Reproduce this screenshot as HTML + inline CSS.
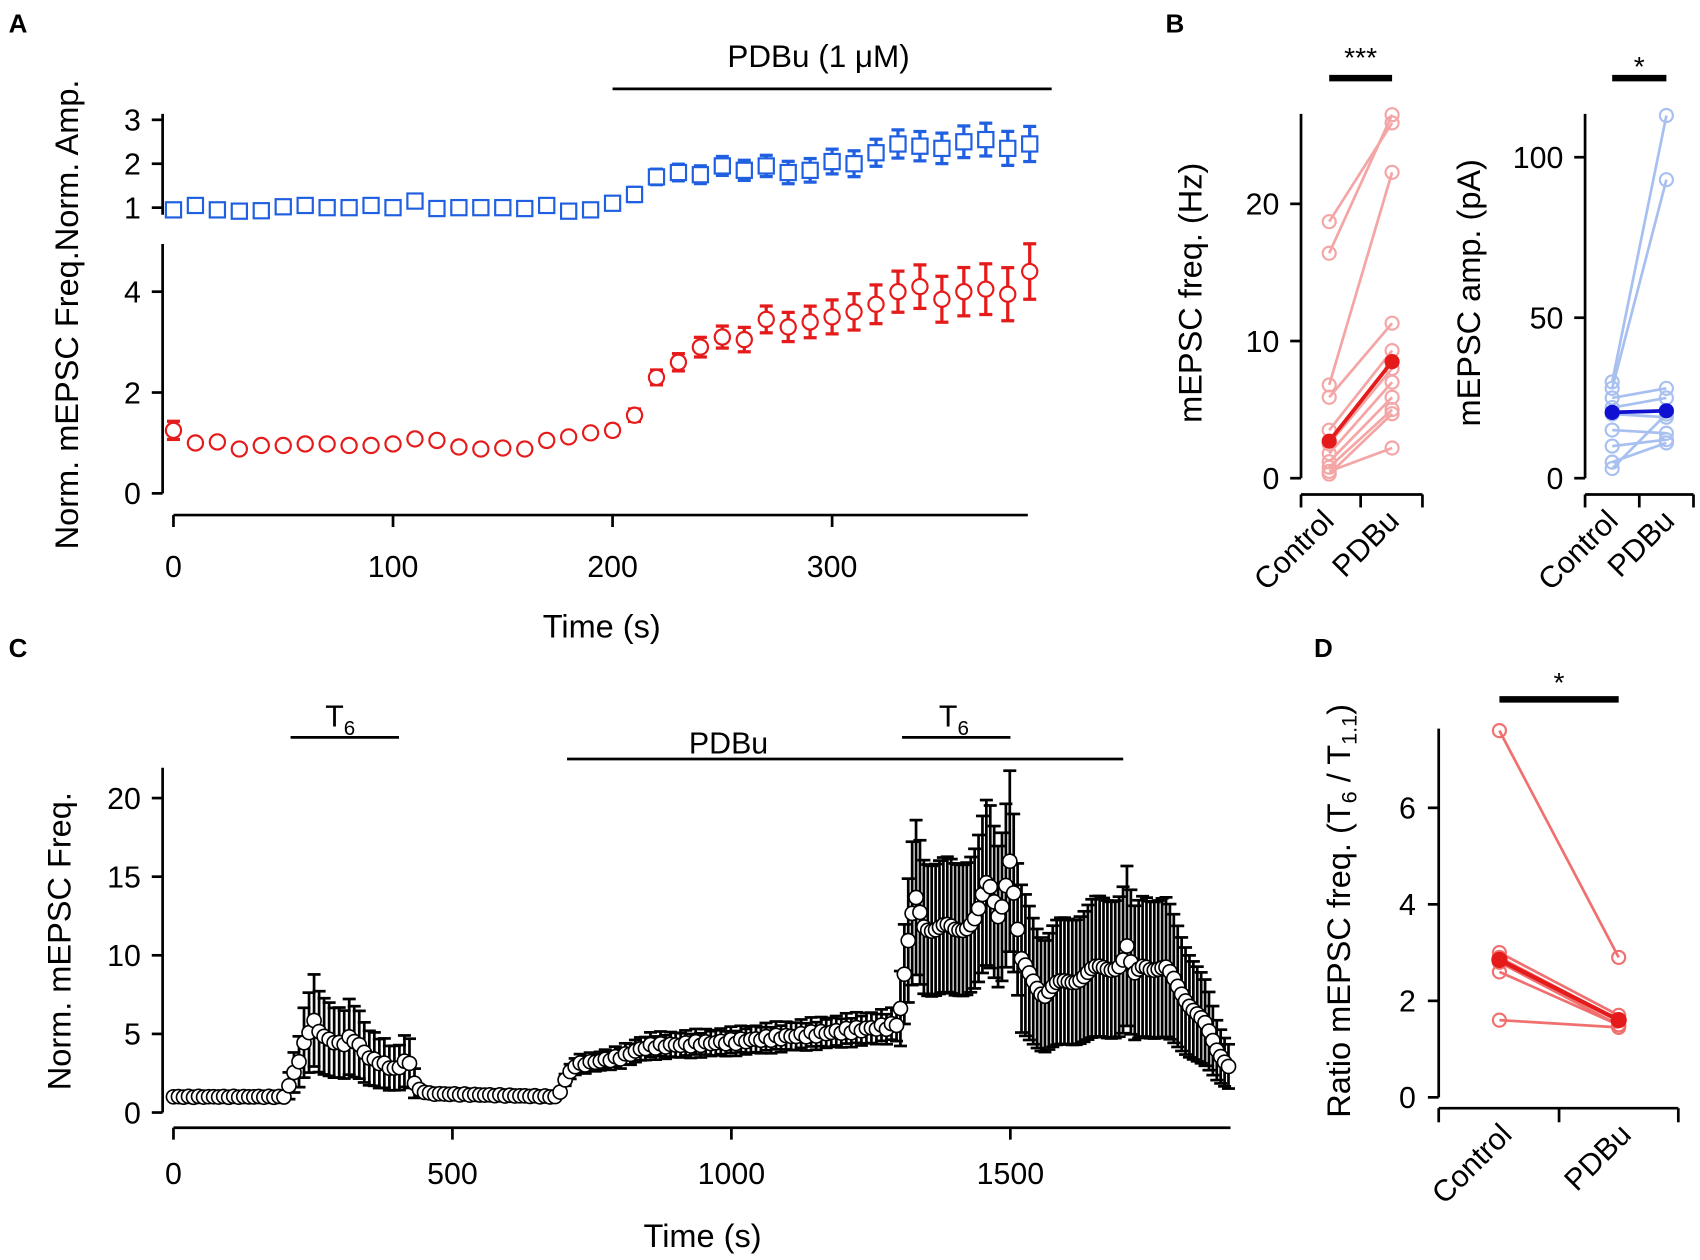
<!DOCTYPE html>
<html><head><meta charset="utf-8"><style>
html,body{margin:0;padding:0;background:#fff;}
svg{display:block;font-family:"Liberation Sans",sans-serif;}
</style></head><body>
<svg id="s" width="1700" height="1260" viewBox="0 0 1568 1162" preserveAspectRatio="none" xmlns="http://www.w3.org/2000/svg">
<rect width="1568" height="1162" fill="#fff"/>
<g font-weight="bold" font-size="24">
<text x="8" y="30">A</text><text x="1075" y="30">B</text><text x="8" y="606">C</text><text x="1212" y="606">D</text>
</g>
<g id="g"></g>
</svg>
<script>
const g=document.getElementById('g');
let h='';
function L(x1,y1,x2,y2,c,w){h+=`<line x1="${x1}" y1="${y1}" x2="${x2}" y2="${y2}" stroke="${c||'#000'}" stroke-width="${w||2.5}"/>`;}
function T(x,y,t,o){o=o||{};h+=`<text x="${x}" y="${y}" font-size="${o.s||28}" text-anchor="${o.a||'middle'}" ${o.r?`transform="rotate(${o.r} ${x} ${y})"`:''} fill="#000">${t}</text>`;}
// Panel A
const ax=t=>160+t*2.025, lyA=v=>455-v*46.5, uyA=v=>232-v*40.5;
L(150,225,150,455);L(140,455,150,455);L(140,362,150,362);L(140,269,150,269);
T(130,465,'0',{a:'end'});T(130,372,'2',{a:'end'});T(130,279,'4',{a:'end'});
L(150,105,150,198);[1,2,3].forEach(v=>{L(140,uyA(v),150,uyA(v));T(130,uyA(v)+10,v,{a:'end'});});
L(160,475,948,475);[0,100,200,300].forEach(t=>{L(ax(t),475,ax(t),486);T(ax(t),532,t);});
L(565,82,970,82);T(755,62,'PDBu (1 μM)',{s:29});
T(555,588,'Time (s)',{s:30});
T(72,290,'Norm. mEPSC Freq.Norm. Amp.',{s:30,r:-90});
const bl=[0.95,1.05,0.95,0.92,0.93,1.02,1.05,1.0,1.0,1.05,1.0,1.15,0.98,1.0,1.0,1.0,0.98,1.05,0.92,0.95,1.1,1.3,1.7,1.8,1.75,1.95,1.85,1.95,1.8,1.85,2.05,2.0,2.25,2.45,2.4,2.35,2.5,2.55,2.35,2.45];
const rd=[1.25,1.0,1.02,0.88,0.95,0.95,0.98,0.98,0.95,0.95,0.98,1.08,1.05,0.92,0.88,0.9,0.88,1.05,1.12,1.2,1.25,1.55,2.3,2.6,2.9,3.1,3.05,3.45,3.3,3.4,3.5,3.6,3.75,4.0,4.1,3.85,4.0,4.05,3.95,4.4];
bl.forEach((v,i)=>{const x=ax(i*10),y=uyA(v);const e=i<20?(i==0||i==19?0.12:0.04):0.15+0.25*(i-20)/19;
 if(e>0.05){L(x,uyA(v+e),x,uyA(v-e),'#1f5fe0',3);L(x-6,uyA(v+e),x+6,uyA(v+e),'#1f5fe0',3);L(x-6,uyA(v-e),x+6,uyA(v-e),'#1f5fe0',3);}
 h+=`<rect x="${x-7}" y="${y-7}" width="14" height="14" fill="#fff" stroke="#1f5fe0" stroke-width="2"/>`;});
rd.forEach((v,i)=>{const x=ax(i*10),y=lyA(v);const e=i<20?(i==0?0.18:0.08):0.1+0.45*(i-20)/19;
 L(x,lyA(v+e),x,lyA(v-e),'#e51a1a',3);L(x-6,lyA(v+e),x+6,lyA(v+e),'#e51a1a',3);L(x-6,lyA(v-e),x+6,lyA(v-e),'#e51a1a',3);
 h+=`<circle cx="${x}" cy="${y}" r="7" fill="#fff" stroke="#e51a1a" stroke-width="2"/>`;});
// Panel B left
const by1=v=>441-v*12.65;
L(1200,105,1200,441);[0,10,20].forEach(v=>{L(1190,by1(v),1200,by1(v));T(1180,by1(v)+10,v,{a:'end'});});
L(1200,456,1312,456);[1200,1255,1312].forEach(x=>L(x,456,x,468));
T(1232,482,'Control',{a:'end',r:-45});T(1292,482,'PDBu',{a:'end',r:-45});
T(1108,270,'mEPSC freq. (Hz)',{s:30,r:-90});
L(1226,72,1284,72,'#000',6);T(1255,62,'***',{s:26});
[[18.7,25.9],[16.4,26.5],[6.8,22.3],[5.9,11.3],[3.5,9.3],[2.5,8],[1.8,7],[1.2,5.9],[0.8,5],[0.3,4.7],[0.5,2.2]].forEach(p=>{
 L(1226,by1(p[0]),1284,by1(p[1]),'#f4a5a5',2.5);h+=`<circle cx="1226" cy="${by1(p[0])}" r="6" fill="none" stroke="#f4a5a5" stroke-width="2"/><circle cx="1284" cy="${by1(p[1])}" r="6" fill="none" stroke="#f4a5a5" stroke-width="2"/>`;});
L(1226,by1(2.7),1284,by1(8.5),'#e51a1a',3.5);h+=`<circle cx="1226" cy="${by1(2.7)}" r="7" fill="#e51a1a"/><circle cx="1284" cy="${by1(8.5)}" r="7" fill="#e51a1a"/>`;
// Panel B right
const by2=v=>441-v*2.96;
L(1462,105,1462,441);[0,50,100].forEach(v=>{L(1452,by2(v),1462,by2(v));T(1442,by2(v)+10,v,{a:'end'});});
L(1462,456,1562,456);[1462,1512,1562].forEach(x=>L(x,456,x,468));
T(1494,482,'Control',{a:'end',r:-45});T(1546,482,'PDBu',{a:'end',r:-45});
T(1365,270,'mEPSC amp. (pA)',{s:30,r:-90});
L(1487,72,1537,72,'#000',6);T(1512,70,'*',{s:26});
[[30,113],[28,93],[25,28],[22,25],[20,19],[15,14],[10,12],[5,11],[3,20]].forEach(p=>{
 L(1487,by2(p[0]),1537,by2(p[1]),'#a8c0f0',2.5);h+=`<circle cx="1487" cy="${by2(p[0])}" r="6" fill="none" stroke="#a8c0f0" stroke-width="2"/><circle cx="1537" cy="${by2(p[1])}" r="6" fill="none" stroke="#a8c0f0" stroke-width="2"/>`;});
L(1487,by2(20.5),1537,by2(21),'#1010d0',3.5);h+=`<circle cx="1487" cy="${by2(20.5)}" r="7" fill="#1010d0"/><circle cx="1537" cy="${by2(21)}" r="7" fill="#1010d0"/>`;
// Panel C
const cx=t=>160+t*0.5146, cy=v=>1026-v*14.5;
L(150,708,150,1026);[0,5,10,15,20].forEach(v=>{L(140,cy(v),150,cy(v));T(130,cy(v)+10,v,{a:'end'});});
L(160,1040,1135,1040);[0,500,1000,1500].forEach(t=>{L(cx(t),1040,cx(t),1051);T(cx(t),1092,t);});
T(648,1150,'Time (s)',{s:30});T(65,868,'Norm. mEPSC Freq.',{s:30,r:-90});
L(268,680,368,680);L(832,680,932,680);L(523,700,1036,700);
h+=`<text x="300" y="670" font-size="28">T<tspan font-size="19" dy="8">6</tspan></text><text x="866" y="670" font-size="28">T<tspan font-size="19" dy="8">6</tspan></text>`;
T(672,695,'PDBu',{s:28});
const key=[[0,1],[200,1],[210,2],[225,3.3],[240,5],[250,5.8],[270,4.8],[300,4.3],[320,4.8],[350,3.5],[400,2.7],[420,3.5],[435,1.5],[460,1.2],[690,1],[700,2],[720,3],[800,3.5],[850,4.2],[1000,4.5],[1150,5],[1290,5.5],[1300,5.8],[1310,8.7],[1320,11.5],[1330,13.5],[1345,12],[1400,11.5],[1440,12.5],[1460,14.5],[1480,12.5],[1500,16.4],[1510,12.2],[1520,9.5],[1540,8.5],[1560,7.5],[1580,8],[1650,9],[1700,9.5],[1710,10.5],[1720,8.5],[1740,9.5],[1780,9],[1800,8],[1850,5.5],[1870,4],[1890,3]];
function f(t){for(let i=1;i<key.length;i++){if(t<=key[i][0]){const a=key[i-1],b=key[i];return a[1]+(b[1]-a[1])*(t-a[0])/(b[0]-a[0]);}}return 3;}
let pts=[];
for(let t=0;t<=1895;t+=(t>=1290?7:9)){let v=f(t)*(1+0.03*Math.sin(t*1.7));pts.push([t,v]);}
let errs='',circ='';
pts.forEach(([t,v])=>{const x=cx(t);let e;
 if(t<200||(t>440&&t<700))e=0.15*v;else if(t<440)e=0.5*v;else if(t<1300)e=0.18*v;else if(t<1520)e=0.36*v;else e=0.48*v;
 const y1=cy(v+e),y2=cy(Math.max(v-e,0));
 errs+=`<line x1="${x}" y1="${y1}" x2="${x}" y2="${y2}" stroke="#000" stroke-width="2.5"/><line x1="${x-6}" y1="${y1}" x2="${x+6}" y2="${y1}" stroke="#000" stroke-width="2.5"/><line x1="${x-6}" y1="${y2}" x2="${x+6}" y2="${y2}" stroke="#000" stroke-width="2.5"/>`;
 circ+=`<circle cx="${x}" cy="${cy(v)}" r="6.5" fill="#fff" stroke="#000" stroke-width="1.5"/>`;});
h+=errs+circ;
// Panel D
const dy=v=>1012-v*44.5;
L(1327,672,1327,1012);[0,2,4,6].forEach(v=>{L(1317,dy(v),1327,dy(v));T(1306,dy(v)+10,v,{a:'end'});});
L(1327,1022,1548,1022);[1327,1438,1548].forEach(x=>L(x,1022,x,1035));
T(1396,1048,'Control',{a:'end',r:-45});T(1506,1048,'PDBu',{a:'end',r:-45});
h+=`<text x="1245" y="840" font-size="30" text-anchor="middle" transform="rotate(-90 1245 840)">Ratio mEPSC freq. (T<tspan font-size="20" dy="6">6</tspan><tspan dy="-6"> / T</tspan><tspan font-size="20" dy="6">1.1</tspan><tspan dy="-6">)</tspan></text>`;
L(1383,645,1493,645,'#000',6);T(1438,638,'*',{s:26});
[[7.6,2.9],[3.0,1.7],[2.9,1.6],[2.8,1.5],[2.6,1.5],[1.6,1.45]].forEach(p=>{
 L(1383,dy(p[0]),1493,dy(p[1]),'#f07070',2.5);h+=`<circle cx="1383" cy="${dy(p[0])}" r="6" fill="none" stroke="#f07070" stroke-width="2"/><circle cx="1493" cy="${dy(p[1])}" r="6" fill="none" stroke="#f07070" stroke-width="2"/>`;});
L(1383,dy(2.85),1493,dy(1.6),'#e51a1a',4);h+=`<circle cx="1383" cy="${dy(2.85)}" r="7.5" fill="#e51a1a"/><circle cx="1493" cy="${dy(1.6)}" r="7.5" fill="#e51a1a"/>`;
g.innerHTML=h;
</script>
</body></html>
